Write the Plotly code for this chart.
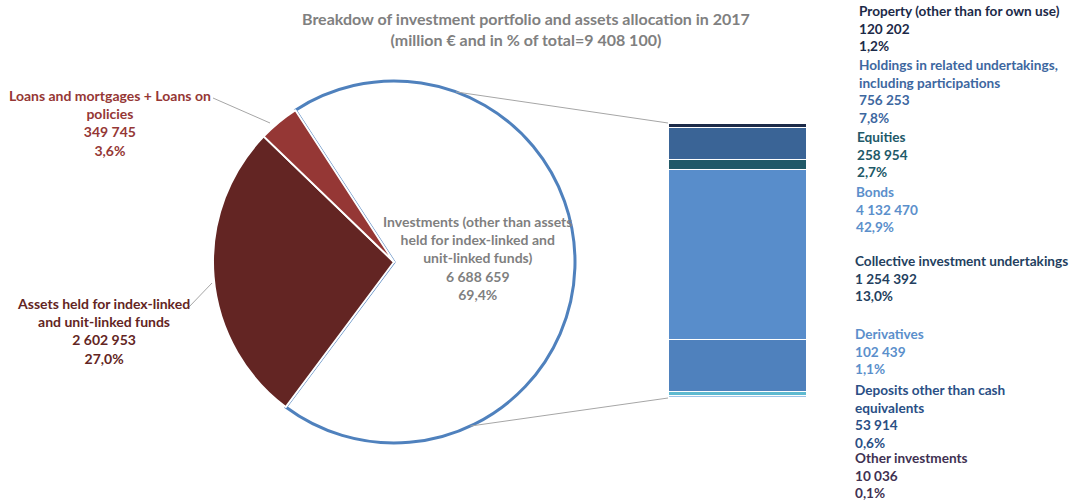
import math
import plotly.graph_objects as go

W, H = 1073, 502

# ---- data ----
pie_labels = ["Investments (other than assets<br>held for index-linked and<br>unit-linked funds)",
              "Assets held for index-linked<br>and unit-linked funds",
              "Loans and mortgages + Loans on<br>policies"]
pie_values = [6688659, 2602953, 349745]
pie_pct = ["69,4%", "27,0%", "3,6%"]
pie_colors = ["#ffffff", "#632523", "#953735"]
pie_text_colors = ["#7f7f7f", "#632523", "#953735"]

bar_labels = ["Property (other than for own use)",
              "Holdings in related undertakings,<br>including participations",
              "Equities", "Bonds", "Collective investment undertakings",
              "Derivatives", "Deposits other than cash<br>equivalents", "Other investments"]
bar_values = [120202, 756253, 258954, 4132470, 1254392, 102439, 53914, 10036]
bar_pct = ["1,2%", "7,8%", "2,7%", "42,9%", "13,0%", "1,1%", "0,6%", "0,1%"]
bar_colors = ["#1c2a48", "#3a6496", "#215968", "#588dcb", "#4f81bd", "#5fbad0", "#9dc3e6", "#3f3151"]
bar_line_colors = ["#ffffff", "#ffffff", "#ffffff", "#ffffff", "#ffffff", "#ffffff", "#ffffff", "#3f3151"]
bar_text_colors = ["#1c2a48", "#3d67a0", "#215968", "#5b8fcb", "#243f60", "#5b8fcb", "#2a4f85", "#403152"]

title_text = "Breakdow of investment portfolio and assets allocation in 2017<br>(million € and in % of total=9 408 100)"

FONT = "Lato"
FS = 14
FS_BAR = 13.6


def fmt(v):
    return f"{v:,}".replace(",", " ")


def px(x):
    return x / W


def py(y):
    return 1 - y / H


fig = go.Figure()

# ---- pie ----
cx, cy, r = 394, 262, 181
fig.add_trace(go.Pie(
    values=pie_values, labels=[l.replace("<br>", " ") for l in pie_labels],
    sort=False, direction="clockwise", rotation=-33,
    marker=dict(colors=pie_colors,
                line=dict(color=["#4f81bd", "#ffffff", "#ffffff"], width=[3, 2, 2])),
    textinfo="none", hoverinfo="label+value+percent", showlegend=False,
    domain=dict(x=[px(cx - r), px(cx + r)], y=[py(cy + r), py(cy - r)]),
))

# ---- stacked bar (bottom to top) ----
bx0, bx1, by0, by1 = 668, 806, 123, 398
for lab, val, col, lc in reversed(list(zip(bar_labels, bar_values, bar_colors, bar_line_colors))):
    fig.add_trace(go.Bar(
        x=[0], y=[val], name=lab.replace("<br>", " "), marker=dict(color=col, line=dict(color=lc, width=1)),
        width=1, xaxis="x2", yaxis="y2", showlegend=False, hoverinfo="name+y",
    ))

fig.update_layout(
    barmode="stack",
    xaxis2=dict(domain=[px(bx0), px(bx1)], range=[-0.5, 0.5], visible=False, anchor="y2"),
    yaxis2=dict(domain=[py(by1), py(by0)], range=[0, sum(bar_values)], visible=False, anchor="x2"),
)

annotations = []
# title
annotations.append(dict(x=px(526), y=py(7), xref="paper", yref="paper", xanchor="center", yanchor="top",
                        text=f"<b>{title_text}</b>", showarrow=False,
                        font=dict(family=FONT, size=16, color="#808080")))

# pie labels
pie_pos = [(477, 211, "center"), (103, 293, "center"), (110, 85, "center")]
for lab, val, pct, tc, (x, y, al) in zip(pie_labels, pie_values, pie_pct, pie_text_colors, pie_pos):
    annotations.append(dict(x=px(x), y=py(y), xref="paper", yref="paper", xanchor="center", yanchor="top",
                            align=al, showarrow=False,
                            text=f"<b>{lab}<br>{fmt(val)}<br>{pct}</b>",
                            font=dict(family=FONT, size=FS, color=tc)))

# bar labels
bar_pos = [(857, 1), (857, 55), (855, 127), (854, 182), (853, 251), (853, 324), (853, 380), (853, 448)]
for lab, val, pct, tc, (x, y) in zip(bar_labels, bar_values, bar_pct, bar_text_colors, bar_pos):
    annotations.append(dict(x=px(x), y=py(y), xref="paper", yref="paper", xanchor="left", yanchor="top",
                            align="left", showarrow=False,
                            text=f"<b>{lab}<br>{fmt(val)}<br>{pct}</b>",
                            font=dict(family=FONT, size=FS_BAR, color=tc)))

# connector lines pie -> bar, and leader lines
shapes = []
for ang, (bx, byy) in [(70, (bx0, by0)), (-65, (bx0, by1))]:
    a = math.radians(ang)
    x0, y0 = cx + r * math.cos(a), cy - r * math.sin(a)
    shapes.append(dict(type="line", xref="paper", yref="paper", x0=px(x0), y0=py(y0), x1=px(bx), y1=py(byy),
                       line=dict(color="#a6a6a6", width=1)))
for (x0, y0, x1, y1) in [(213, 98, 270, 123), (189, 307, 212, 283)]:
    shapes.append(dict(type="line", xref="paper", yref="paper", x0=px(x0), y0=py(y0), x1=px(x1), y1=py(y1),
                       line=dict(color="#a6a6a6", width=1)))

fig.update_layout(
    width=W, height=H, margin=dict(l=0, r=0, t=0, b=0),
    paper_bgcolor="white", plot_bgcolor="white",
    annotations=annotations, shapes=shapes,
    xaxis=dict(visible=False), yaxis=dict(visible=False),
)

fig.write_html("out.html", config={"displayModeBar": False},
               post_script="document.body.style.margin='0px';document.body.style.overflow='hidden';")
